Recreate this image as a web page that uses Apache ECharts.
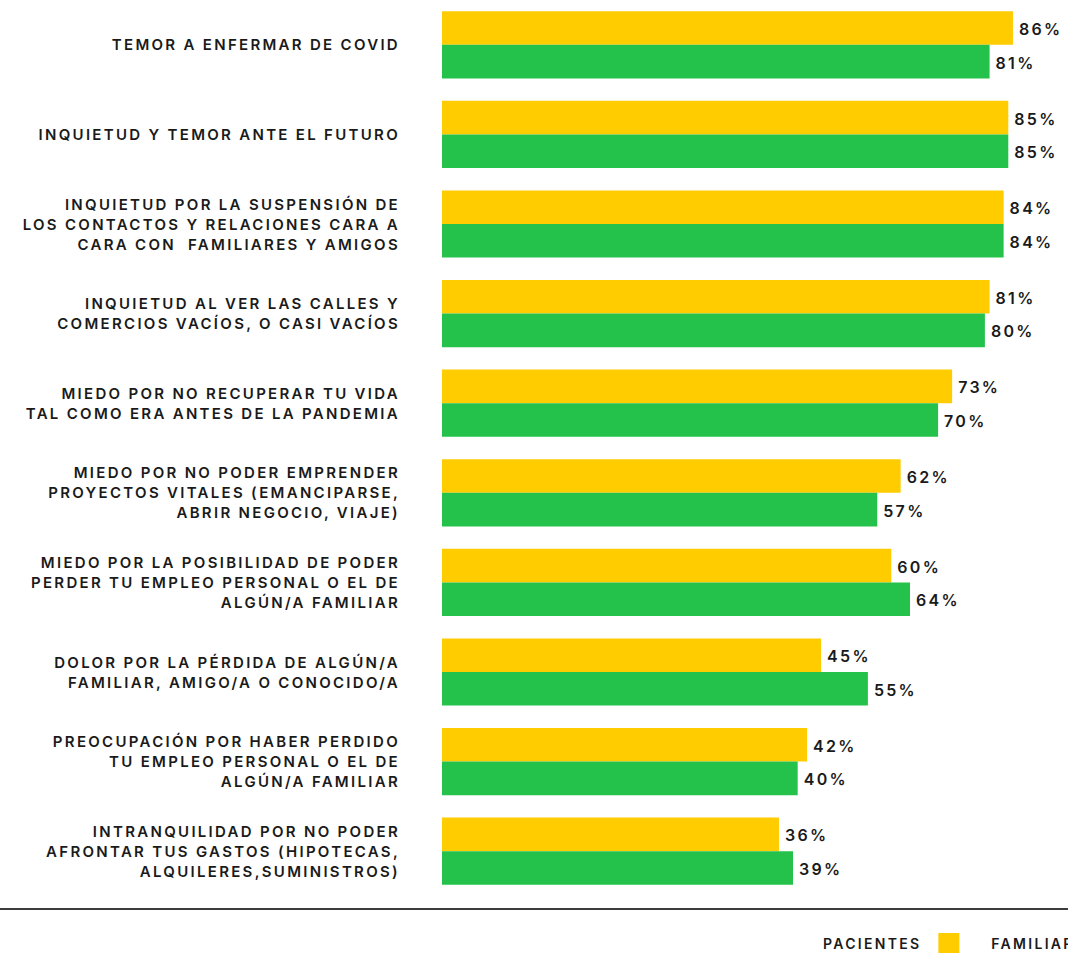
<!DOCTYPE html>
<html>
<head>
<meta charset="utf-8">
<script src="https://cdn.jsdelivr.net/npm/echarts@6/dist/echarts.min.js"></script>
<style>
  html, body { margin: 0; padding: 0; background: #fff; overflow: hidden; }
  #chart { width: 1160px; height: 954px; }
  #chart text { letter-spacing: 2.3px; }
</style>
</head>
<body>
<div id="chart"></div>
<script>
// keep text measurement consistent with the CSS letter spacing
(function () {
  var proto = CanvasRenderingContext2D.prototype;
  var orig = proto.measureText;
  proto.measureText = function (t) {
    try { this.letterSpacing = '2.3px'; } catch (e) {}
    return orig.call(this, t);
  };
})();

var categories = [
  'TEMOR A ENFERMAR DE COVID',
  'INQUIETUD Y TEMOR ANTE EL FUTURO',
  'INQUIETUD POR LA SUSPENSIÓN DE\nLOS CONTACTOS Y RELACIONES CARA A\nCARA CON  FAMILIARES Y AMIGOS',
  'INQUIETUD AL VER LAS CALLES Y\nCOMERCIOS VACÍOS, O CASI VACÍOS',
  'MIEDO POR NO RECUPERAR TU VIDA\nTAL COMO ERA ANTES DE LA PANDEMIA',
  'MIEDO POR NO PODER EMPRENDER\nPROYECTOS VITALES (EMANCIPARSE,\nABRIR NEGOCIO, VIAJE)',
  'MIEDO POR LA POSIBILIDAD DE PODER\nPERDER TU EMPLEO PERSONAL O EL DE\nALGÚN/A FAMILIAR',
  'DOLOR POR LA PÉRDIDA DE ALGÚN/A\nFAMILIAR, AMIGO/A O CONOCIDO/A',
  'PREOCUPACIÓN POR HABER PERDIDO\nTU EMPLEO PERSONAL O EL DE\nALGÚN/A FAMILIAR',
  'INTRANQUILIDAD POR NO PODER\nAFRONTAR TUS GASTOS (HIPOTECAS,\nALQUILERES,SUMINISTROS)'
];
var pacientes  = [86, 85, 84, 81, 73, 62, 60, 45, 42, 36];
var familiares = [81, 85, 84, 80, 70, 57, 64, 55, 40, 39];
var seriesNames = ['PACIENTES', 'FAMILIARES'];

var FONT = 'Inter, "Noto Sans", sans-serif';
var TXT = '#1a1a1a';

var chart = echarts.init(document.getElementById('chart'), null, { renderer: 'svg' });

function labelCfg() {
  return {
    show: true,
    position: 'right',
    distance: 6,
    offset: [0, 1],
    formatter: '{c}%',
    fontFamily: FONT,
    fontSize: 16,
    fontWeight: 600,
    color: TXT
  };
}

chart.setOption({
  animation: false,
  backgroundColor: '#ffffff',
  textStyle: { fontFamily: FONT },
  grid: { left: 442, top: 0, height: 896, width: 636.5, containLabel: false },
  xAxis: {
    type: 'value',
    min: -36,
    max: 100,
    startValue: -36,
    show: false
  },
  yAxis: {
    type: 'category',
    data: categories,
    inverse: true,
    axisLine: { show: false },
    axisTick: { show: false },
    splitLine: { show: false },
    axisLabel: {
      margin: 42,
      fontFamily: FONT,
      fontSize: 15,
      fontWeight: 600,
      lineHeight: 20,
      color: TXT,
      align: 'right'
    }
  },
  legend: {
    data: seriesNames,
    left: 818,
    top: 928,
    align: 'right',
    itemWidth: 21,
    itemHeight: 20,
    itemGap: 32,
    icon: 'rect',
    textStyle: {
      fontFamily: FONT,
      fontSize: 14,
      fontWeight: 600,
      color: TXT,
      padding: [0, 12, 0, 0]
    }
  },
  graphic: [{
    type: 'line',
    shape: { x1: 0, y1: 909, x2: 1160, y2: 909 },
    style: { stroke: '#3c3c3c', lineWidth: 2 },
    silent: true
  }],
  series: [
    {
      name: seriesNames[0],
      type: 'bar',
      data: pacientes,
      itemStyle: { color: '#FFCC00' },
      barGap: '0%',
      barCategoryGap: '25%',
      label: labelCfg()
    },
    {
      name: seriesNames[1],
      type: 'bar',
      data: familiares,
      itemStyle: { color: '#24C24B' },
      barGap: '0%',
      barCategoryGap: '25%',
      label: labelCfg()
    }
  ]
});
</script>
</body>
</html>
